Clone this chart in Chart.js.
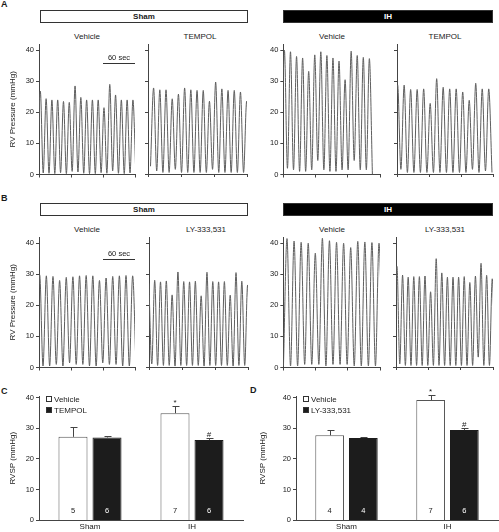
<!DOCTYPE html>
<html>
<head>
<meta charset="utf-8">
<script src="https://cdn.jsdelivr.net/npm/chart.js@4.4.0/dist/chart.umd.min.js"></script>
<style>
body { margin: 0; background: #fff; }
#fig { position: relative; width: 499px; height: 532px; overflow: hidden; background: #fff;
       font-family: "Liberation Sans", Arial, sans-serif; color: #1a1a1a; }
.panel { position: absolute; font-weight: bold; font-size: 9px; line-height: 10px; }
.grp { position: absolute; box-sizing: border-box; border: 1px solid #333; height: 13px;
       font-weight: bold; font-size: 8px; line-height: 11px; text-align: center; }
.grp.dark { background: #000; color: #fff; }
.hdr { position: absolute; font-size: 8px; line-height: 10px; white-space: nowrap; transform: translateX(-50%); }
.wrap { position: absolute; }
.wrap canvas { display: block; }
</style>
</head>
<body>
<div id="fig">
  <div class="panel" style="left:1px;top:-1px">A</div>
  <div class="panel" style="left:1px;top:193px">B</div>
  <div class="panel" style="left:1px;top:386px">C</div>
  <div class="panel" style="left:250px;top:385px">D</div>

  <div class="grp" style="left:40px;top:10px;width:208px">Sham</div>
  <div class="grp dark" style="left:283px;top:10px;width:210px">IH</div>
  <div class="grp" style="left:40px;top:203px;width:208px">Sham</div>
  <div class="grp dark" style="left:283px;top:203px;width:210px">IH</div>

  <div class="hdr" style="left:87px;top:32px">Vehicle</div>
  <div class="hdr" style="left:200px;top:32px">TEMPOL</div>
  <div class="hdr" style="left:332px;top:32px">Vehicle</div>
  <div class="hdr" style="left:445px;top:32px">TEMPOL</div>
  <div class="hdr" style="left:87px;top:225px">Vehicle</div>
  <div class="hdr" style="left:206px;top:225px">LY-333,531</div>
  <div class="hdr" style="left:332px;top:225px">Vehicle</div>
  <div class="hdr" style="left:445px;top:225px">LY-333,531</div>
</div>

<script>
// ---- RV pressure traces (mmHg), read beat by beat ----
const timeTicks = [0, 60, 120, 180];      // s
const pressureTicks = [0, 10, 20, 30, 40];
const scaleBarSec = [120, 180];
const scaleBarLabel = "60 sec";

// [first peak time (s), beat period (s)]
const aShamVehBeat = [2.5, 10.85];
const aShamVehPeaks = [26.8, 24.4, 24.0, 24.0, 23.5, 23.2, 28.5, 24.8, 24.0, 24.0, 24.0, 21.5, 29.0, 25.6, 24.0, 24.0, 24.0];
const aShamVehTroughs = [2.0, 0.5, 0.4, 0.3, 0.6, 0.3, 1.0, 0.8, 0.4, 0.3, 0.3, 0.6, 0.4, 1.2, 0.4, 0.3, 0.5, 0.5];

const aShamTemBeat = [10.2, 11.28];
const aShamTemPeaks = [27.8, 27.2, 27.2, 24.3, 25.8, 27.8, 27.2, 27.0, 27.0, 23.5, 29.7, 27.5, 27.0, 27.0, 26.5, 23.5];
const aShamTemTroughs = [2.5, 1.0, 0.5, 0.5, 1.5, 0.5, 0.5, 0.5, 0.5, 0.5, 1.5, 0.5, 0.5, 0.5, 0.5, 0.5, 0.5];

const aIhVehBeat = [2.0, 11.3];
const aIhVehPeaks = [40.0, 39.5, 38.0, 37.5, 33.2, 38.5, 39.5, 38.3, 37.5, 36.5, 30.5, 39.7, 38.3, 37.7, 37.3];
const aIhVehTroughs = [2.0, 2.0, 1.5, 1.0, 1.0, 1.5, 4.5, 1.5, 1.0, 1.0, 1.5, 1.5, 4.5, 1.5, 1.5, 0.0];

const aIhTemBeat = [1.2, 12.2];
const aIhTemPeaks = [28.8, 28.7, 27.3, 27.3, 27.5, 22.8, 30.8, 28.0, 27.5, 27.5, 26.5, 23.8, 29.3, 27.5, 27.5];
const aIhTemTroughs = [1.5, 1.5, 0.5, 0.5, 0.5, 0.5, 0.5, 0.5, 0.5, 0.5, 0.5, 0.5, 1.5, 0.5, 1.0, 0.5];

const bShamVehBeat = [1.3, 12.45];
const bShamVehPeaks = [29.8, 29.5, 29.3, 28.0, 29.0, 29.2, 29.5, 29.6, 29.5, 28.0, 28.8, 29.3, 29.5, 29.6, 29.5];
const bShamVehTroughs = [0.5, 0.5, 0.5, 1.0, 0.5, 1.5, 1.0, 1.0, 0.5, 0.5, 1.5, 1.0, 1.0, 0.5, 0.5, 0.5];

const bShamLyBeat = [-0.2, 10.56];
const bShamLyPeaks = [27.0, 28.0, 27.5, 27.8, 23.3, 30.7, 27.6, 27.5, 27.7, 23.0, 30.6, 27.6, 27.5, 27.6, 23.2, 30.5, 27.7, 26.5];
const bShamLyTroughs = [1.0, 1.0, 0.5, 0.5, 0.5, 0.3, 0.5, 0.5, 0.5, 0.5, 0.3, 0.5, 0.5, 0.5, 0.5, 0.3, 0.5, 0.5, 0.5];

const bIhVehBeat = [6.8, 13.18];
const bIhVehPeaks = [41.5, 40.7, 40.3, 40.0, 36.8, 41.6, 40.8, 40.3, 40.0, 38.6, 40.6, 40.4, 40.2, 40.0];
const bIhVehTroughs = [0.5, 0.5, 0.5, 1.0, 1.0, 1.0, 0.5, 1.0, 1.0, 1.0, 0.5, 0.5, 0.5, 0.5, 0.5];

const bIhLyBeat = [1.8, 10.4];
const bIhLyPeaks = [32.5, 29.7, 29.0, 29.2, 29.2, 29.4, 24.3, 35.0, 30.4, 29.0, 29.0, 29.0, 29.2, 27.3, 29.4, 33.5, 29.6, 28.5];
const bIhLyTroughs = [1.0, 1.0, 0.5, 0.5, 0.5, 0.5, 0.5, 0.5, 0.5, 0.5, 0.5, 0.5, 0.5, 0.5, 0.5, 3.2, 0.5, 0.5, 0.5];

// ---- RVSP bars (mean, SEM, n) ----
const rvspGroups = ["Sham", "IH"];
const rvspTicks = [0, 10, 20, 30, 40];

const cVehicle = [27.2, 34.9], cVehicleErr = [3.3, 2.5], cVehicleN = [5, 7], cVehicleMarks = ["", "*"];
const cTempol = [27.0, 26.2], cTempolErr = [0.4, 0.7], cTempolN = [6, 6], cTempolMarks = ["", "#"];

const dVehicle = [27.7, 39.2], dVehicleErr = [1.6, 1.5], dVehicleN = [4, 7], dVehicleMarks = ["", "*"];
const dLy = [26.8, 29.4], dLyErr = [0.4, 0.6], dLyN = [4, 6], dLyMarks = ["", "#"];

// ---- styling ----
const FONT = '"Liberation Sans", Arial, sans-serif';
const textColor = "#1a1a1a";
const axisColor = "#444";
Chart.defaults.font.family = FONT;
Chart.defaults.color = textColor;

// trough, peak, trough, peak ... half a beat apart
function beatPoints(beat, peaks, troughs) {
    const pts = [];
    peaks.forEach((p, i) => {
        pts.push({ x: beat[0] + (i - 0.5) * beat[1], y: troughs[i] });
        pts.push({ x: beat[0] + i * beat[1], y: p });
    });
    pts.push({ x: beat[0] + (peaks.length - 0.5) * beat[1], y: troughs[peaks.length] });
    return pts;
}

const scaleBarPlugin = {
    id: "scaleBar",
    afterDatasetsDraw(chart, args, opts) {
        if (!opts.level) return;
        const { ctx, scales: { x, y } } = chart;
        const x0 = x.getPixelForValue(scaleBarSec[0]);
        const x1 = x.getPixelForValue(scaleBarSec[1]);
        const yy = Math.round(y.getPixelForValue(opts.level)) + 0.5;
        ctx.save();
        ctx.strokeStyle = "#333";
        ctx.lineWidth = 1;
        ctx.beginPath();
        ctx.moveTo(x0, yy);
        ctx.lineTo(x1, yy);
        ctx.stroke();
        ctx.fillStyle = textColor;
        ctx.font = "7.5px " + FONT;
        ctx.textAlign = "center";
        ctx.textBaseline = "middle";
        ctx.fillText(scaleBarLabel, (x0 + x1) / 2, yy - 6);
        ctx.restore();
    }
};

// error bars, n, significance marks and legend
const barExtras = {
    id: "barExtras",
    afterDatasetsDraw(chart) {
        const { ctx, chartArea, scales: { y } } = chart;
        ctx.save();
        chart.data.datasets.forEach((ds, i) => {
            chart.getDatasetMeta(i).data.forEach((bar, j) => {
                const top = Math.round(y.getPixelForValue(ds.data[j] + ds.err[j])) + 0.5;
                const xc = Math.round(bar.x) + 0.5;
                ctx.strokeStyle = "#444";
                ctx.lineWidth = 1;
                ctx.beginPath();
                ctx.moveTo(xc, bar.y);
                ctx.lineTo(xc, top);
                ctx.moveTo(xc - 3, top);
                ctx.lineTo(xc + 4, top);
                ctx.stroke();

                ctx.textAlign = "center";
                if (ds.marks[j]) {
                    ctx.fillStyle = textColor;
                    ctx.font = "8px " + FONT;
                    ctx.textBaseline = "alphabetic";
                    ctx.fillText(ds.marks[j], bar.x, top - 2);
                }
                ctx.fillStyle = i === 0 ? textColor : "#fff";
                ctx.font = "7.5px " + FONT;
                ctx.textBaseline = "middle";
                ctx.fillText(ds.n[j], bar.x, chartArea.bottom - 9);
            });

            const lx = chartArea.left + 7, ly = chartArea.top + i * 11;
            ctx.fillStyle = ds.backgroundColor;
            ctx.fillRect(lx, ly, 6, 6);
            ctx.strokeStyle = "#333";
            ctx.strokeRect(lx + 0.5, ly + 0.5, 5, 5);
            ctx.fillStyle = textColor;
            ctx.font = "8px " + FONT;
            ctx.textAlign = "left";
            ctx.textBaseline = "middle";
            ctx.fillText(ds.label, lx + 8, ly + 3.5);
        });
        ctx.restore();
    }
};

// put the chart area of a chart exactly on [left, right, top, bottom]
function makeChart(area, config) {
    const wrap = document.createElement("div");
    wrap.className = "wrap";
    const cv = document.createElement("canvas");
    cv.width = 160;
    cv.height = 180;
    wrap.appendChild(cv);
    document.getElementById("fig").appendChild(wrap);
    const chart = new Chart(cv, config);
    for (let k = 0; k < 2; k++) {
        const a = chart.chartArea;
        chart.resize(Math.round(chart.width + (area[1] - area[0]) - (a.right - a.left)),
                     Math.round(chart.height + (area[3] - area[2]) - (a.bottom - a.top)));
    }
    const a = chart.chartArea;
    wrap.style.left = Math.round(area[0] - a.left) + "px";
    wrap.style.top = Math.round(area[2] - a.top) + "px";
    return chart;
}

function traceChart(area, beat, peaks, troughs, opt) {
    return makeChart(area, {
        type: "line",
        data: {
            datasets: [{
                data: beatPoints(beat, peaks, troughs),
                borderColor: "#5e5e5e",
                borderWidth: 1,
                pointRadius: 0,
                cubicInterpolationMode: "monotone"
            }]
        },
        options: {
            responsive: false,
            maintainAspectRatio: false,
            animation: false,
            layout: { padding: { top: 8, right: 2 } },
            plugins: {
                legend: { display: false },
                tooltip: { enabled: false },
                scaleBar: { level: opt.bar || 0 }
            },
            scales: {
                x: {
                    type: "linear", min: 0, max: 180,
                    afterBuildTicks: s => { s.ticks = timeTicks.map(v => ({ value: v })); },
                    ticks: { display: false },
                    grid: { drawOnChartArea: false, tickLength: 3, color: axisColor },
                    border: { color: axisColor }
                },
                y: {
                    min: 0, max: 42,
                    afterBuildTicks: s => { s.ticks = pressureTicks.map(v => ({ value: v })); },
                    ticks: { display: !!opt.labels, font: { size: 7.5 }, color: textColor, padding: 2 },
                    grid: { drawOnChartArea: false, tickLength: 3, color: axisColor },
                    border: { color: axisColor },
                    title: { display: !!opt.title, text: "RV Pressure (mmHg)", font: { size: 8 }, color: textColor, padding: 0 },
                    afterFit: opt.title ? (s => { s.width = opt.title; }) : undefined
                }
            }
        },
        plugins: [scaleBarPlugin]
    });
}

function barChart(area, veh, vehErr, vehN, vehMarks, trtName, trt, trtErr, trtN, trtMarks, axisW) {
    return makeChart(area, {
        type: "bar",
        data: {
            labels: rvspGroups,
            datasets: [
                { label: "Vehicle", data: veh, err: vehErr, n: vehN, marks: vehMarks,
                  backgroundColor: "#fff", borderColor: "#555", borderWidth: 1,
                  categoryPercentage: 0.667, barPercentage: 0.853 },
                { label: trtName, data: trt, err: trtErr, n: trtN, marks: trtMarks,
                  backgroundColor: "#1c1c1c", borderColor: "#1c1c1c", borderWidth: 1,
                  categoryPercentage: 0.667, barPercentage: 0.853 }
            ]
        },
        options: {
            responsive: false,
            maintainAspectRatio: false,
            animation: false,
            layout: { padding: { top: 14, right: 2 } },
            plugins: { legend: { display: false }, tooltip: { enabled: false } },
            scales: {
                x: {
                    grid: { display: false, drawTicks: false },
                    border: { color: axisColor },
                    ticks: { color: textColor, font: { size: 8 }, padding: 2 }
                },
                y: {
                    min: 0, max: 40.5,
                    afterBuildTicks: s => { s.ticks = rvspTicks.map(v => ({ value: v })); },
                    ticks: { font: { size: 7.5 }, color: textColor, padding: 2 },
                    grid: { drawOnChartArea: false, tickLength: 3, color: axisColor },
                    border: { color: axisColor },
                    title: { display: true, text: "RVSP (mmHg)", font: { size: 8 }, color: textColor, padding: 0 },
                    afterFit: s => { s.width = axisW; }
                }
            }
        },
        plugins: [barExtras]
    });
}

// panel A
traceChart([39, 135, 44, 174], aShamVehBeat, aShamVehPeaks, aShamVehTroughs, { labels: true, title: 31, bar: 36 });
traceChart([148, 247, 44, 174], aShamTemBeat, aShamTemPeaks, aShamTemTroughs, {});
traceChart([283, 380, 44, 174], aIhVehBeat, aIhVehPeaks, aIhVehTroughs, { labels: true });
traceChart([397, 493, 44, 174], aIhTemBeat, aIhTemPeaks, aIhTemTroughs, {});

// panel B
traceChart([39, 135, 237, 367], bShamVehBeat, bShamVehPeaks, bShamVehTroughs, { labels: true, title: 31, bar: 35 });
traceChart([149, 248, 237, 367], bShamLyBeat, bShamLyPeaks, bShamLyTroughs, {});
traceChart([283, 380, 237, 367], bIhVehBeat, bIhVehPeaks, bIhVehTroughs, { labels: true });
traceChart([396, 493, 237, 367], bIhLyBeat, bIhLyPeaks, bIhLyTroughs, {});

// panels C and D
barChart([39, 243, 396, 520], cVehicle, cVehicleErr, cVehicleN, cVehicleMarks,
         "TEMPOL", cTempol, cTempolErr, cTempolN, cTempolMarks, 31);
barChart([296, 498, 396, 520], dVehicle, dVehicleErr, dVehicleN, dVehicleMarks,
         "LY-333,531", dLy, dLyErr, dLyN, dLyMarks, 38);
</script>
</body>
</html>
